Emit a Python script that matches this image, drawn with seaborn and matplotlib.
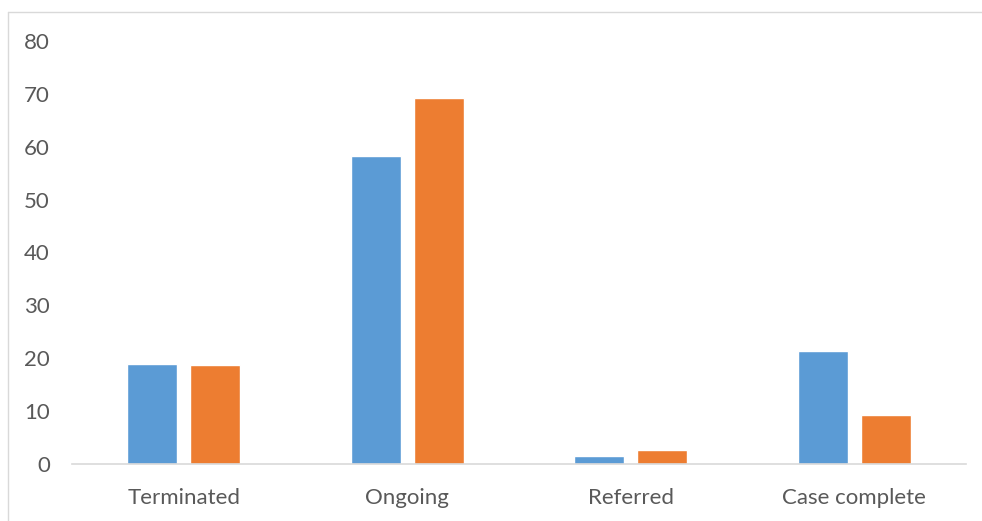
import matplotlib
matplotlib.use("Agg")
import matplotlib.pyplot as plt
import pandas as pd
import seaborn as sns
from matplotlib.lines import Line2D

categories = ["Terminated", "Ongoing", "Referred", "Case complete"]
series_names = ["Series 1", "Series 2"]
series_1 = [18.9, 58.3, 1.5, 21.3]
series_2 = [18.7, 69.3, 2.6, 9.3]
y_ticks = [0, 10, 20, 30, 40, 50, 60, 70, 80]

df = pd.DataFrame({
    "category": categories * 2,
    "series": [series_names[0]] * len(categories) + [series_names[1]] * len(categories),
    "value": series_1 + series_2,
})

sns.set_theme(style="white")
plt.rcParams["font.family"] = ["Lato", "DejaVu Sans"]

W, H = 982, 521
fig = plt.figure(figsize=(W / 100, H / 100), dpi=100)
ax = fig.add_axes([72 / W, (H - 464) / H, (966 - 72) / W, (464 - 41) / H])

sns.barplot(
    data=df, x="category", y="value", hue="series",
    order=categories, hue_order=series_names,
    palette=["#5B9BD5", "#ED7D31"],
    width=0.5625, gap=0.2, legend=False, ax=ax,
    saturation=1, errorbar=None,
)

ax.set_ylim(0, 80)
ax.set_yticks(y_ticks)
ax.set_yticklabels([str(t) for t in y_ticks])
ax.set_xlim(-0.5, len(categories) - 0.5)
ax.set_xlabel("")
ax.set_ylabel("")

for side in ["top", "right", "left"]:
    ax.spines[side].set_visible(False)
ax.spines["bottom"].set_color("#D9D9D9")
ax.spines["bottom"].set_linewidth(1.2)

ax.tick_params(axis="y", length=0, pad=16, labelsize=16, labelcolor="#595959")
ax.tick_params(axis="x", length=0, pad=17, labelsize=16, labelcolor="#595959")
for lbl in ax.get_yticklabels():
    lbl.set_horizontalalignment("right")

# Chart area border (top and left edges visible)
border = dict(transform=fig.transFigure, color="#D9D9D9", linewidth=1.0)
fig.add_artist(Line2D([8 / W, 1.0], [(H - 12) / H, (H - 12) / H], **border))
fig.add_artist(Line2D([8 / W, 8 / W], [0.0, (H - 12) / H], **border))

fig.savefig("out.png", dpi=100)
